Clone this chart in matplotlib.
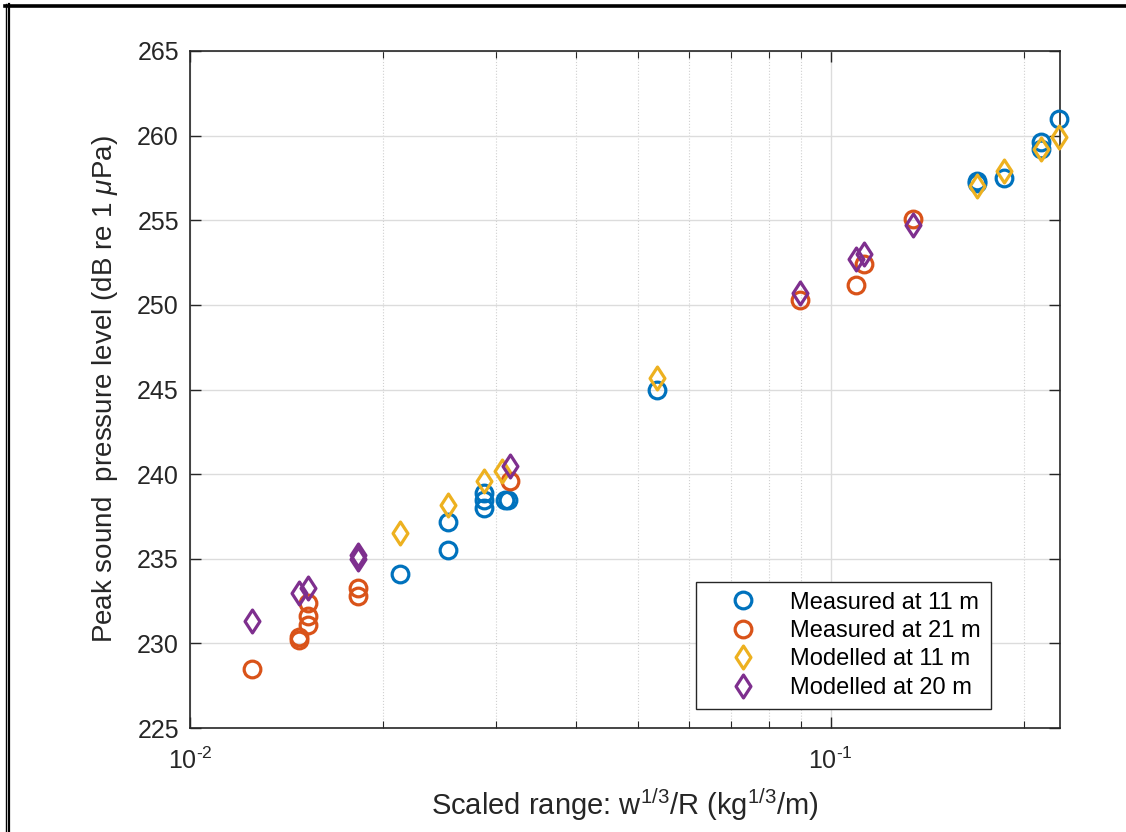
import numpy as np
import matplotlib
matplotlib.use('Agg')
import matplotlib.pyplot as plt
from matplotlib.path import Path
from matplotlib.lines import Line2D
from matplotlib.ticker import LogLocator, FixedLocator, FixedFormatter, NullFormatter

plt.rcParams['font.family'] = ['Liberation Sans', 'DejaVu Sans']
plt.rcParams['mathtext.fontset'] = 'custom'
plt.rcParams['mathtext.it'] = 'Liberation Sans:italic'
plt.rcParams['mathtext.rm'] = 'Liberation Sans'

# scaled range (kg^1/3/m) and peak level (dB re 1 uPa)
meas11_x = [0.0213, 0.0253, 0.0253, 0.0288, 0.0288, 0.0288, 0.0310, 0.0314,
            0.0536, 0.1694, 0.1694, 0.1866, 0.2133, 0.2133, 0.227]
meas11_y = [234.1, 235.5, 237.2, 238.0, 238.5, 238.9, 238.5, 238.5,
            245.0, 257.2, 257.3, 257.5, 259.6, 259.2, 261.0]

meas21_x = [0.01251, 0.01482, 0.01482, 0.01527, 0.01527, 0.01527, 0.01832, 0.01832,
            0.0316, 0.0895, 0.1096, 0.1128, 0.1345]
meas21_y = [228.5, 230.4, 230.2, 231.1, 231.6, 232.4, 233.3, 232.8,
            239.6, 250.3, 251.2, 252.4, 255.1]

mod11_x = [0.0213, 0.0253, 0.0288, 0.0307, 0.0536, 0.1694, 0.1866, 0.2133, 0.227]
mod11_y = [236.5, 238.2, 239.6, 240.2, 245.7, 257.0, 257.9, 259.2, 259.9]

mod20_x = [0.01251, 0.01482, 0.01527, 0.01832, 0.01832, 0.0316, 0.0895, 0.1096, 0.1128, 0.1345]
mod20_y = [231.3, 233.0, 233.3, 235.0, 235.2, 240.5, 250.7, 252.7, 253.0, 254.7]

xtick_vals = [0.01, 0.1]
xtick_labels = [r'10$^{\mathregular{\text{-}2}}$', r'10$^{\mathregular{\text{-}1}}$']

c_blue = '#0072BD'
c_orange = '#D95319'
c_yellow = '#EDB120'
c_purple = '#7E2F8E'

# taller-than-wide diamond like matlab's
diamond = Path([(0, 1), (0.65, 0), (0, -1), (-0.65, 0), (0, 1)],
               [Path.MOVETO, Path.LINETO, Path.LINETO, Path.LINETO, Path.CLOSEPOLY])

fig = plt.figure(figsize=(11.26, 8.32), dpi=100)
ax = fig.add_axes([190/1126, 1-728/832, (1060-190)/1126, (728-51)/832])

kw = dict(ls='none', mfc='none', mew=2.3, clip_on=False, zorder=3)
ax.plot(meas11_x, meas11_y, marker='o', mec=c_blue, ms=12, label='Measured at 11 m', **kw)
ax.plot(meas21_x, meas21_y, marker='o', mec=c_orange, ms=12, label='Measured at 21 m', **kw)
ax.plot(mod11_x, mod11_y, marker=diamond, mec=c_yellow, ms=16.5, label='Modelled at 11 m', **kw)
ax.plot(mod20_x, mod20_y, marker=diamond, mec=c_purple, ms=16.5, label='Modelled at 20 m', **kw)

ax.set_xscale('log')
ax.set_xlim(0.01, 0.228)
ax.set_ylim(225, 265)
ax.set_yticks(np.arange(225, 266, 5))
ax.xaxis.set_major_locator(FixedLocator(xtick_vals))
ax.xaxis.set_major_formatter(FixedFormatter(xtick_labels))
ax.xaxis.set_minor_locator(LogLocator(base=10, subs=np.arange(2, 10)))
ax.xaxis.set_minor_formatter(NullFormatter())

ax.grid(True, which='major', color='#dcdcdc', lw=1.0)
ax.grid(True, which='minor', axis='x', color='#d0d0d0', lw=0.8, ls=':')
ax.set_axisbelow(True)

ax.tick_params(which='both', direction='in', top=True, right=True, colors='#262626',
               labelsize=18, labelcolor='#262626')
ax.tick_params(which='major', length=8, width=1)
ax.tick_params(which='minor', length=5, width=0.8)
ax.tick_params(axis='x', pad=14)
ax.tick_params(axis='y', pad=8)
for s in ax.spines.values():
    s.set_color('#262626')
    s.set_linewidth(1.2)

ax.set_xlabel(r'Scaled range: w$^{\mathregular{1/3}}$/R (kg$^{\mathregular{1/3}}$/m)',
              fontsize=21, color='#262626', labelpad=9)
ax.set_ylabel(r'Peak sound  pressure level (dB re 1 $\mu$Pa)', fontsize=20,
              color='#262626', labelpad=12)

leg = ax.legend(loc='lower right', bbox_to_anchor=(0.934, 0.011), fontsize=17,
                frameon=True, fancybox=False, edgecolor='#262626', framealpha=1,
                borderpad=0.42, handletextpad=0.45, labelspacing=0.27, handlelength=3.1)
leg.get_frame().set_linewidth(1.0)

# black border of the original screenshot
fig.add_artist(Line2D([5/1126, 1], [1-5.5/832, 1-5.5/832], color='k', lw=2.6,
                      transform=fig.transFigure))
fig.add_artist(Line2D([5.5/1126, 5.5/1126], [0, 1-4/832], color='k', lw=1.0,
                      transform=fig.transFigure))
fig.add_artist(Line2D([8.5/1126, 8.5/1126], [0, 1-4/832], color='k', lw=1.6,
                      transform=fig.transFigure))

fig.savefig('out.png', dpi=100)
